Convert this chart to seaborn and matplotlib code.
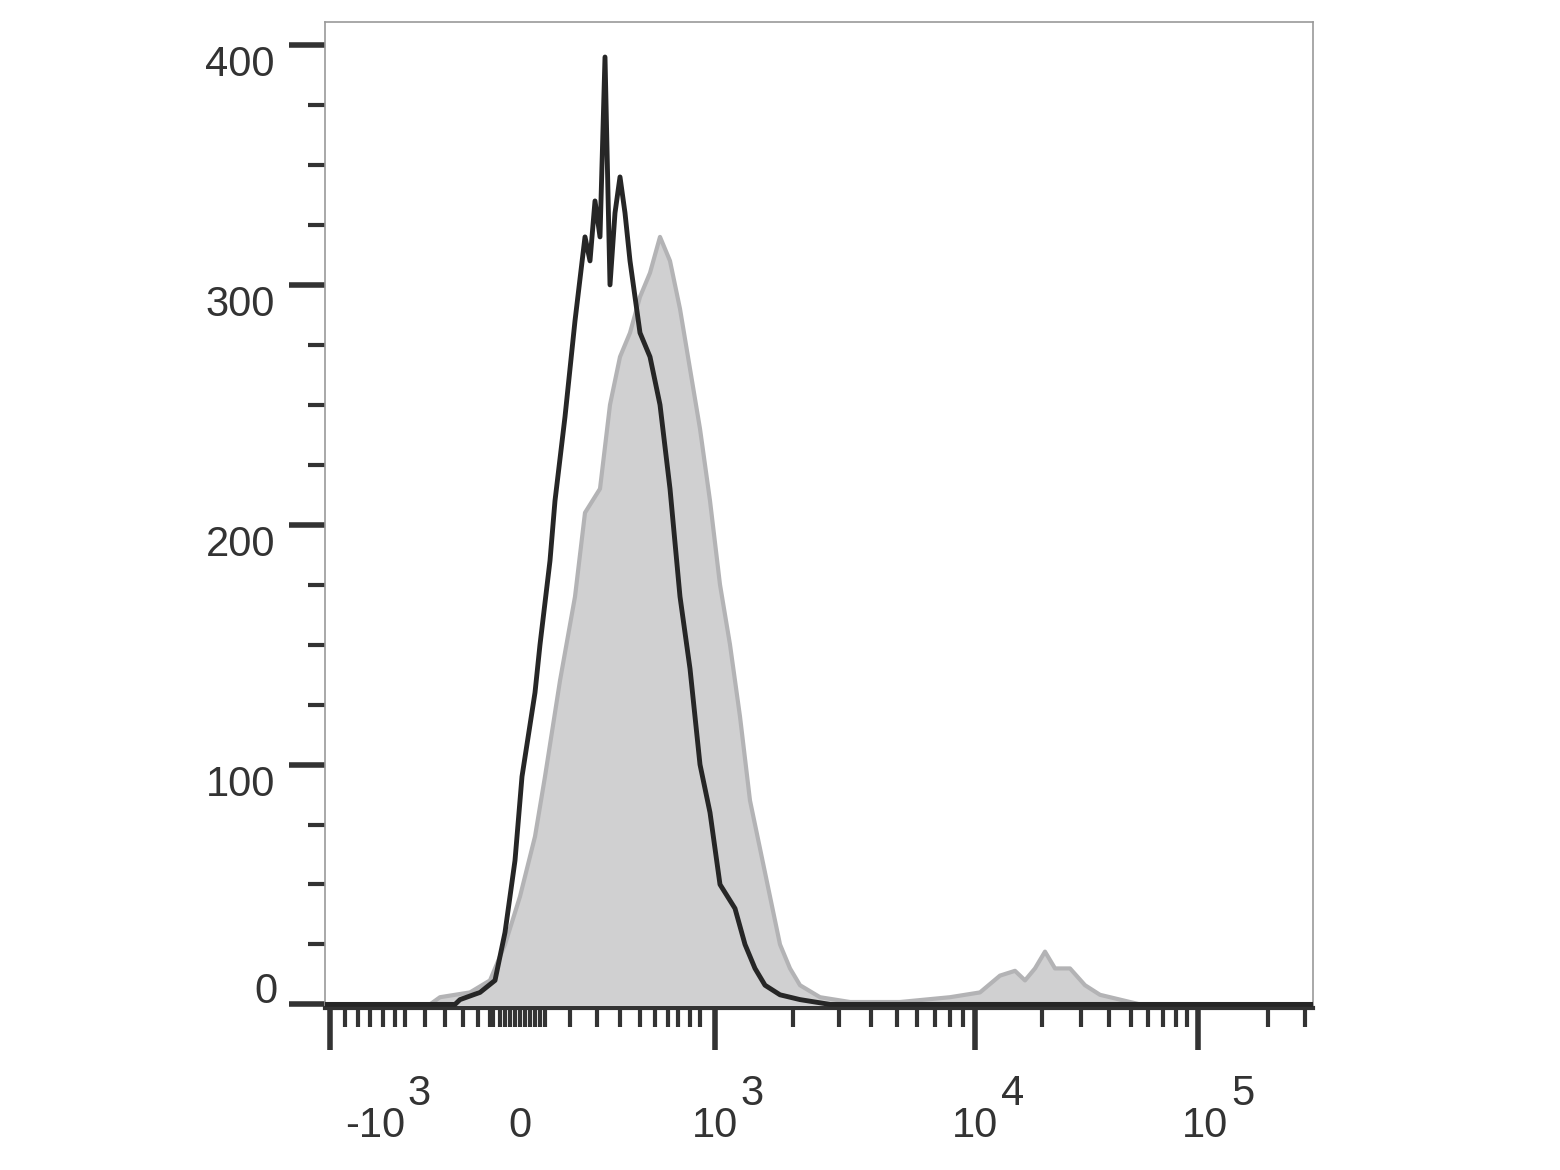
import matplotlib
matplotlib.use("Agg")
import matplotlib.pyplot as plt
import matplotlib.transforms as mtransforms
import seaborn as sns
import pandas as pd

sns.set_theme(style="white")
plt.rcParams['font.family'] = ['Liberation Sans', 'DejaVu Sans']

# channel position (display units) and counts
black_x = [0,130,135,155,170,180,190,197,210,215,225,230,240,250,260,265,270,275,280,285,290,295,300,305,315,325,335,345,355,365,375,385,395,410,420,430,440,455,475,505,988]
black_y = [0,0,2,5,10,30,60,95,130,150,185,210,245,285,320,310,335,320,395,300,330,345,330,310,280,270,250,215,170,140,100,80,50,40,25,15,8,4,2,0,0]
gray_x = [0,105,115,145,165,180,195,210,220,235,250,260,275,285,295,305,315,325,335,345,355,365,375,385,395,405,415,425,435,445,455,465,475,495,525,575,625,655,675,690,700,710,720,730,745,760,775,795,815,988]
gray_y = [0,0,3,5,10,25,45,70,95,135,170,205,215,250,270,280,295,305,320,310,290,265,240,210,175,150,120,85,65,45,25,15,8,3,1,1,3,5,12,14,10,15,22,15,15,8,4,2,0,0]

major_ticks = [5, 390, 650, 873]
minor_ticks = [20,33,45,58,70,80,100,120,138,153,165,168,175,180,185,190,195,200,205,210,215,220,
               245,272,295,315,330,343,353,365,375,
               468,514,546,572,592,610,625,638,
               717,756,784,806,823,838,851,862,943,980]
label_pos = [50, 195, 390, 650, 880]
label_base = ['-10', '0', '10', '10', '10']
label_exp = ['3', '', '3', '4', '5']
y_major = [0, 100, 200, 300, 400]
y_minor = [25, 50, 75, 125, 150, 175, 225, 250, 275, 325, 350, 375]

fig = plt.figure(figsize=(15.6, 11.7), dpi=100)
ax = fig.add_axes([325/1560, 162/1170, 988/1560, 986/1170])

gdf = pd.DataFrame({'x': gray_x, 'y': gray_y})
bdf = pd.DataFrame({'x': black_x, 'y': black_y})
ax.fill_between(gdf['x'], gdf['y'], color='#d0d0d1', zorder=1)
sns.lineplot(data=gdf, x='x', y='y', ax=ax, color='#b3b3b5', lw=3, zorder=2)
sns.lineplot(data=bdf, x='x', y='y', ax=ax, color='#262626', lw=3.5, zorder=3)

ax.set_xlim(0, 988)
ax.set_ylim(-1.5, 409.6)
ax.set_xlabel('')
ax.set_ylabel('')

ax.set_xticks(major_ticks)
ax.set_xticks(minor_ticks, minor=True)
ax.set_xticklabels([])
ax.set_yticks(y_major)
ax.set_yticks(y_minor, minor=True)
ax.set_yticklabels([])
for v in y_major:
    dy = 12 if v == 0 else -20
    dx = -47 if v == 0 else -50
    ytr = ax.get_yaxis_transform() + mtransforms.ScaledTranslation(dx/100, dy/100, fig.dpi_scale_trans)
    ax.text(0, v, str(v), transform=ytr, ha='right', va='center', fontsize=30, color='#333333')
ax.tick_params(axis='y', which='major', direction='out', length=26, width=4, color='#333333', left=True)
ax.tick_params(axis='y', which='minor', direction='out', length=12, width=3, color='#333333', left=True)
ax.tick_params(axis='x', which='major', direction='out', length=30, width=4, color='#333333', bottom=True)
ax.tick_params(axis='x', which='minor', direction='out', length=14, width=3, color='#333333', bottom=True)

for p, b, e in zip(label_pos, label_base, label_exp):
    t = ax.text(p, -0.14, b, transform=ax.get_xaxis_transform(), ha='center', va='bottom',
                fontsize=30, color='#333333')
    if e:
        ax.annotate(e, xy=(1, 1), xycoords=t, xytext=(2, -6), textcoords='offset points',
                    ha='left', va='bottom', fontsize=30, color='#333333')

for s in ax.spines.values():
    s.set_color('#999999')
    s.set_linewidth(1.2)
ax.spines['bottom'].set_color('#333333')
ax.spines['bottom'].set_linewidth(3)

fig.savefig('out.png', dpi=100)
